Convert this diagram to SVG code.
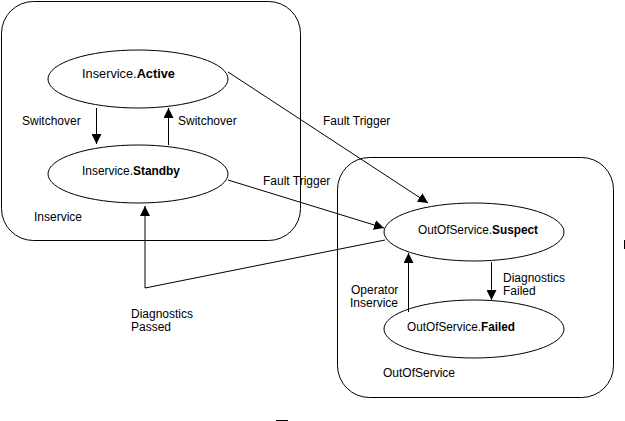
<svg xmlns="http://www.w3.org/2000/svg" width="625" height="421" viewBox="0 0 625 421">
<style>
text{font-family:"Liberation Sans",Arial,sans-serif;font-size:12px;fill:#000}
.b{font-weight:bold}
.box,.st{fill:#fff;stroke:#000;stroke-width:1}
.c{fill:none;stroke:#000;stroke-width:1}
</style>
<defs>
<marker id="ah" viewBox="0 0 10 10" refX="10" refY="5" markerWidth="10" markerHeight="10" markerUnits="userSpaceOnUse" orient="auto">
<path d="M0,0 L10,5 L0,10 z" fill="#000"/>
</marker>
</defs>
<rect width="625" height="421" fill="#fff"/>
<g id="Inservice">
<rect class="box" x="1.5" y="1.5" width="299" height="239" rx="32" ry="32"/>
<text x="34" y="221">Inservice</text>
</g>
<g id="OutOfService">
<rect class="box" x="337.5" y="157.5" width="276" height="240" rx="32" ry="32"/>
<text x="383" y="377">OutOfService</text>
</g>
<g id="Active">
<ellipse class="st" cx="138" cy="79" rx="90" ry="29"/>
<text x="82" y="77.5" textLength="93" lengthAdjust="spacingAndGlyphs">Inservice.<tspan class="b">Active</tspan></text>
</g>
<g id="Standby">
<ellipse class="st" cx="138" cy="174" rx="90" ry="29"/>
<text x="82" y="174.5" textLength="98" lengthAdjust="spacingAndGlyphs">Inservice.<tspan class="b">Standby</tspan></text>
</g>
<g id="Suspect">
<ellipse class="st" cx="474" cy="232" rx="90" ry="29"/>
<text x="418" y="234" textLength="120" lengthAdjust="spacingAndGlyphs">OutOfService.<tspan class="b">Suspect</tspan></text>
</g>
<g id="Failed">
<ellipse class="st" cx="474" cy="329" rx="90" ry="29"/>
<text x="407" y="331" textLength="108" lengthAdjust="spacingAndGlyphs">OutOfService.<tspan class="b">Failed</tspan></text>
</g>
<g id="connectors">
<line class="c" x1="96.5" y1="108" x2="96.5" y2="144" marker-end="url(#ah)"/>
<text x="22" y="125">Switchover</text>
<line class="c" x1="168.5" y1="145" x2="168.5" y2="108" marker-end="url(#ah)"/>
<text x="178" y="125">Switchover</text>
<line class="c" x1="228" y1="72" x2="428" y2="203" marker-end="url(#ah)"/>
<text x="323" y="125">Fault Trigger</text>
<line class="c" x1="228" y1="180" x2="384" y2="228" marker-end="url(#ah)"/>
<text x="263" y="185">Fault Trigger</text>
<polyline class="c" points="385,240 145,288 145,206" marker-end="url(#ah)"/>
<text x="131" y="318">Diagnostics</text>
<text x="131" y="331">Passed</text>
<line class="c" x1="491.5" y1="262" x2="491.5" y2="300" marker-end="url(#ah)"/>
<text x="503" y="282">Diagnostics</text>
<text x="503" y="295">Failed</text>
<line class="c" x1="408.5" y1="312" x2="408.5" y2="253" marker-end="url(#ah)"/>
<text x="351" y="294">Operator</text>
<text x="350" y="307">Inservice</text>
</g>
<line class="c" x1="276" y1="420.5" x2="288" y2="420.5"/>
<line class="c" x1="624.5" y1="240" x2="624.5" y2="249"/>
</svg>
